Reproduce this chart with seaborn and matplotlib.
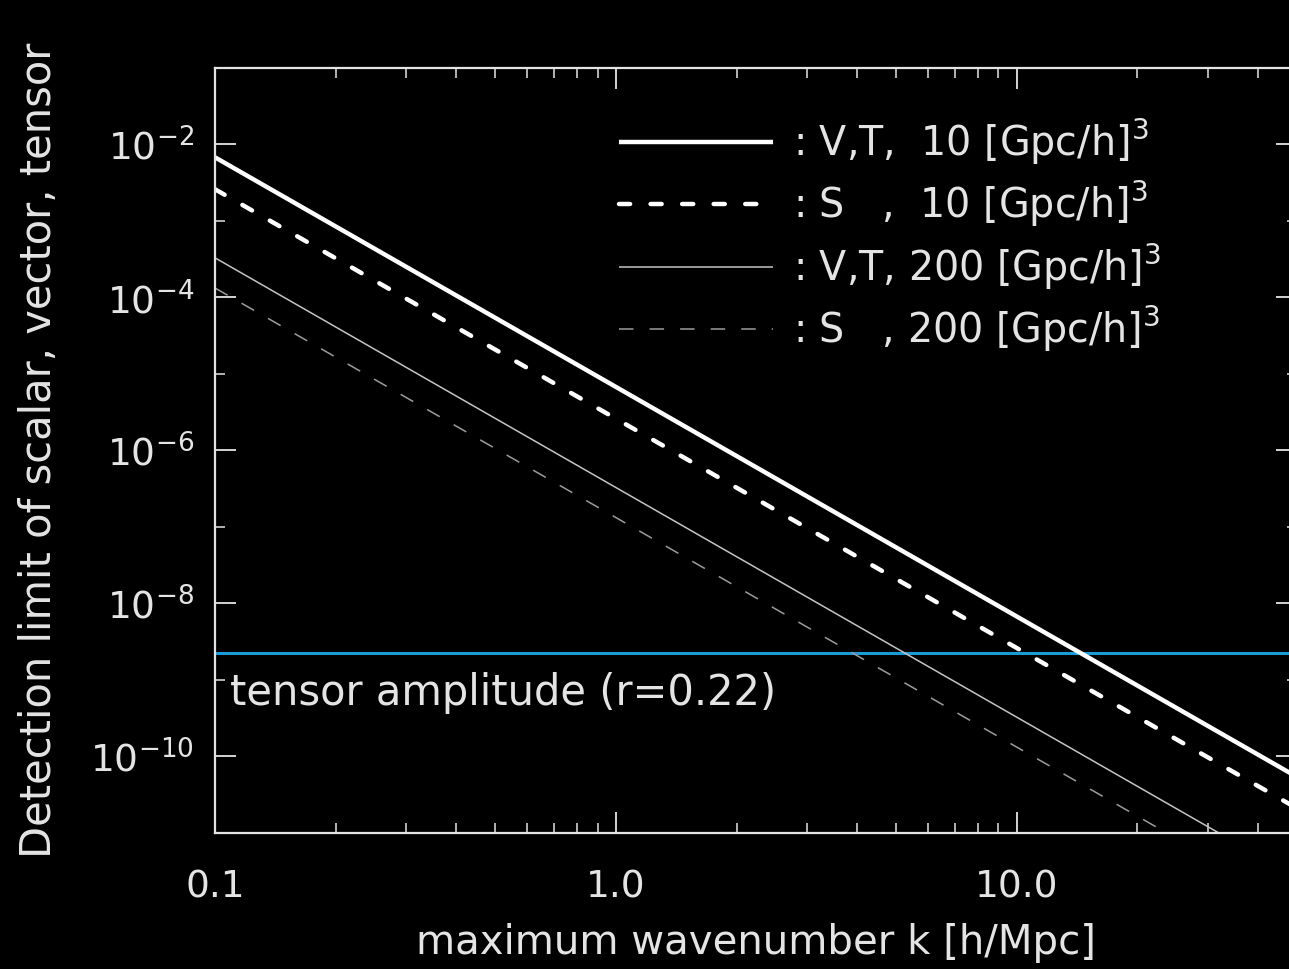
import numpy as np
import pandas as pd
import matplotlib
matplotlib.use("Agg")
import matplotlib.pyplot as plt
from matplotlib.ticker import FixedLocator, FixedFormatter, NullFormatter
import seaborn as sns

# ---- data -------------------------------------------------------------
k_range = [0.1, 50.0]                      # maximum wavenumber k [h/Mpc]
vt_10 = [6.8e-3, 5.4e-11]                  # V,T , 10 (Gpc/h)^3
s_10 = [2.6e-3, 2.1e-11]                   # S   , 10 (Gpc/h)^3
vt_200 = [3.3e-4, 2.6e-12]                 # V,T , 200 (Gpc/h)^3
s_200 = [1.33e-4, 1.06e-12]                # S   , 200 (Gpc/h)^3
tensor_amp = 2.28e-9                       # tensor amplitude, r = 0.22

series_labels = [r": V,T,  10 [Gpc/h]$^3$",
                 r": S   ,  10 [Gpc/h]$^3$",
                 r": V,T, 200 [Gpc/h]$^3$",
                 r": S   , 200 [Gpc/h]$^3$"]
tensor_label = "tensor amplitude (r=0.22)"

x_ticks = [0.1, 1.0, 10.0]
x_tick_labels = ["0.1", "1.0", "10.0"]
x_minor = [0.2, 0.3, 0.4, 0.5, 0.6, 0.7, 0.8, 0.9,
           2, 3, 4, 5, 6, 7, 8, 9, 20, 30, 40]
y_ticks = [1e-2, 1e-4, 1e-6, 1e-8, 1e-10]
y_tick_labels = [r"$10^{-2}$", r"$10^{-4}$", r"$10^{-6}$",
                 r"$10^{-8}$", r"$10^{-10}$"]
y_minor = [1e-1, 1e-3, 1e-5, 1e-7, 1e-9, 1e-11]

x_label = "maximum wavenumber k [h/Mpc]"
y_label = "Detection limit of scalar, vector, tensor"

# ---- style ------------------------------------------------------------
sns.set_theme(style="ticks")
fg = "#e4e4e4"
plt.rcParams.update({
    "figure.facecolor": "black",
    "axes.facecolor": "black",
    "savefig.facecolor": "black",
    "axes.edgecolor": fg,
    "axes.labelcolor": fg,
    "text.color": fg,
    "xtick.color": fg,
    "ytick.color": fg,
    "axes.linewidth": 1.6,
    "mathtext.fontset": "dejavusans",
})
plt.rcParams["font.family"] = ["DejaVu Sans"]

fig = plt.figure(figsize=(12.89, 9.69), dpi=100)
ax = fig.add_axes([215 / 1289, (969 - 833) / 969, 1082 / 1289, 765 / 969])

frames = [
    (vt_10, "white", 3.2, "-", series_labels[0]),
    (s_10, "white", 3.2, (0, (2.5, 4.6)), series_labels[1]),
    (vt_200, "#c4c4c4", 1.1, "-", series_labels[2]),
    (s_200, "#9c9c9c", 1.1, (0, (9.5, 10.5)), series_labels[3]),
]
for vals, col, lw, ls, lab in frames:
    df = pd.DataFrame({"k": k_range, "limit": vals})
    sns.lineplot(data=df, x="k", y="limit", ax=ax, color=col, linewidth=lw,
                 linestyle=ls, label=lab, solid_capstyle="butt",
                 dash_capstyle="round" if lw > 2 else "butt")

ax.axhline(tensor_amp, color="#1b9ad6", linewidth=2.2, zorder=1)

ax.set_xscale("log")
ax.set_yscale("log")
ax.set_xlim(0.1, 50.0)
ax.set_ylim(1e-11, 1e-1)

ax.xaxis.set_major_locator(FixedLocator(x_ticks))
ax.xaxis.set_major_formatter(FixedFormatter(x_tick_labels))
ax.xaxis.set_minor_locator(FixedLocator(x_minor))
ax.xaxis.set_minor_formatter(NullFormatter())
ax.yaxis.set_major_locator(FixedLocator(y_ticks))
ax.yaxis.set_major_formatter(FixedFormatter(y_tick_labels))
ax.yaxis.set_minor_locator(FixedLocator(y_minor))
ax.yaxis.set_minor_formatter(NullFormatter())

ax.tick_params(which="both", direction="in", top=True, right=True)
ax.tick_params(axis="x", labelsize=27)
ax.tick_params(axis="y", labelsize=27)
ax.tick_params(which="major", length=15, width=1.3)
ax.tick_params(which="minor", length=7, width=1.1)
ax.tick_params(axis="x", which="major", pad=26)
ax.tick_params(axis="y", which="major", pad=15)

ax.set_xlabel(x_label, fontsize=29, labelpad=13)
ax.set_ylabel(y_label, fontsize=30, labelpad=22)

ax.text(0.014, 0.183, tensor_label, transform=ax.transAxes, fontsize=30,
        ha="left", va="center", color=fg)

leg = ax.legend(loc="upper left", bbox_to_anchor=(0.355, 0.962),
                frameon=False, fontsize=28.5, handlelength=3.9,
                handletextpad=0.5, labelspacing=0.31, borderpad=0,
                labelcolor=fg)

fig.savefig("out.png", dpi=100)
